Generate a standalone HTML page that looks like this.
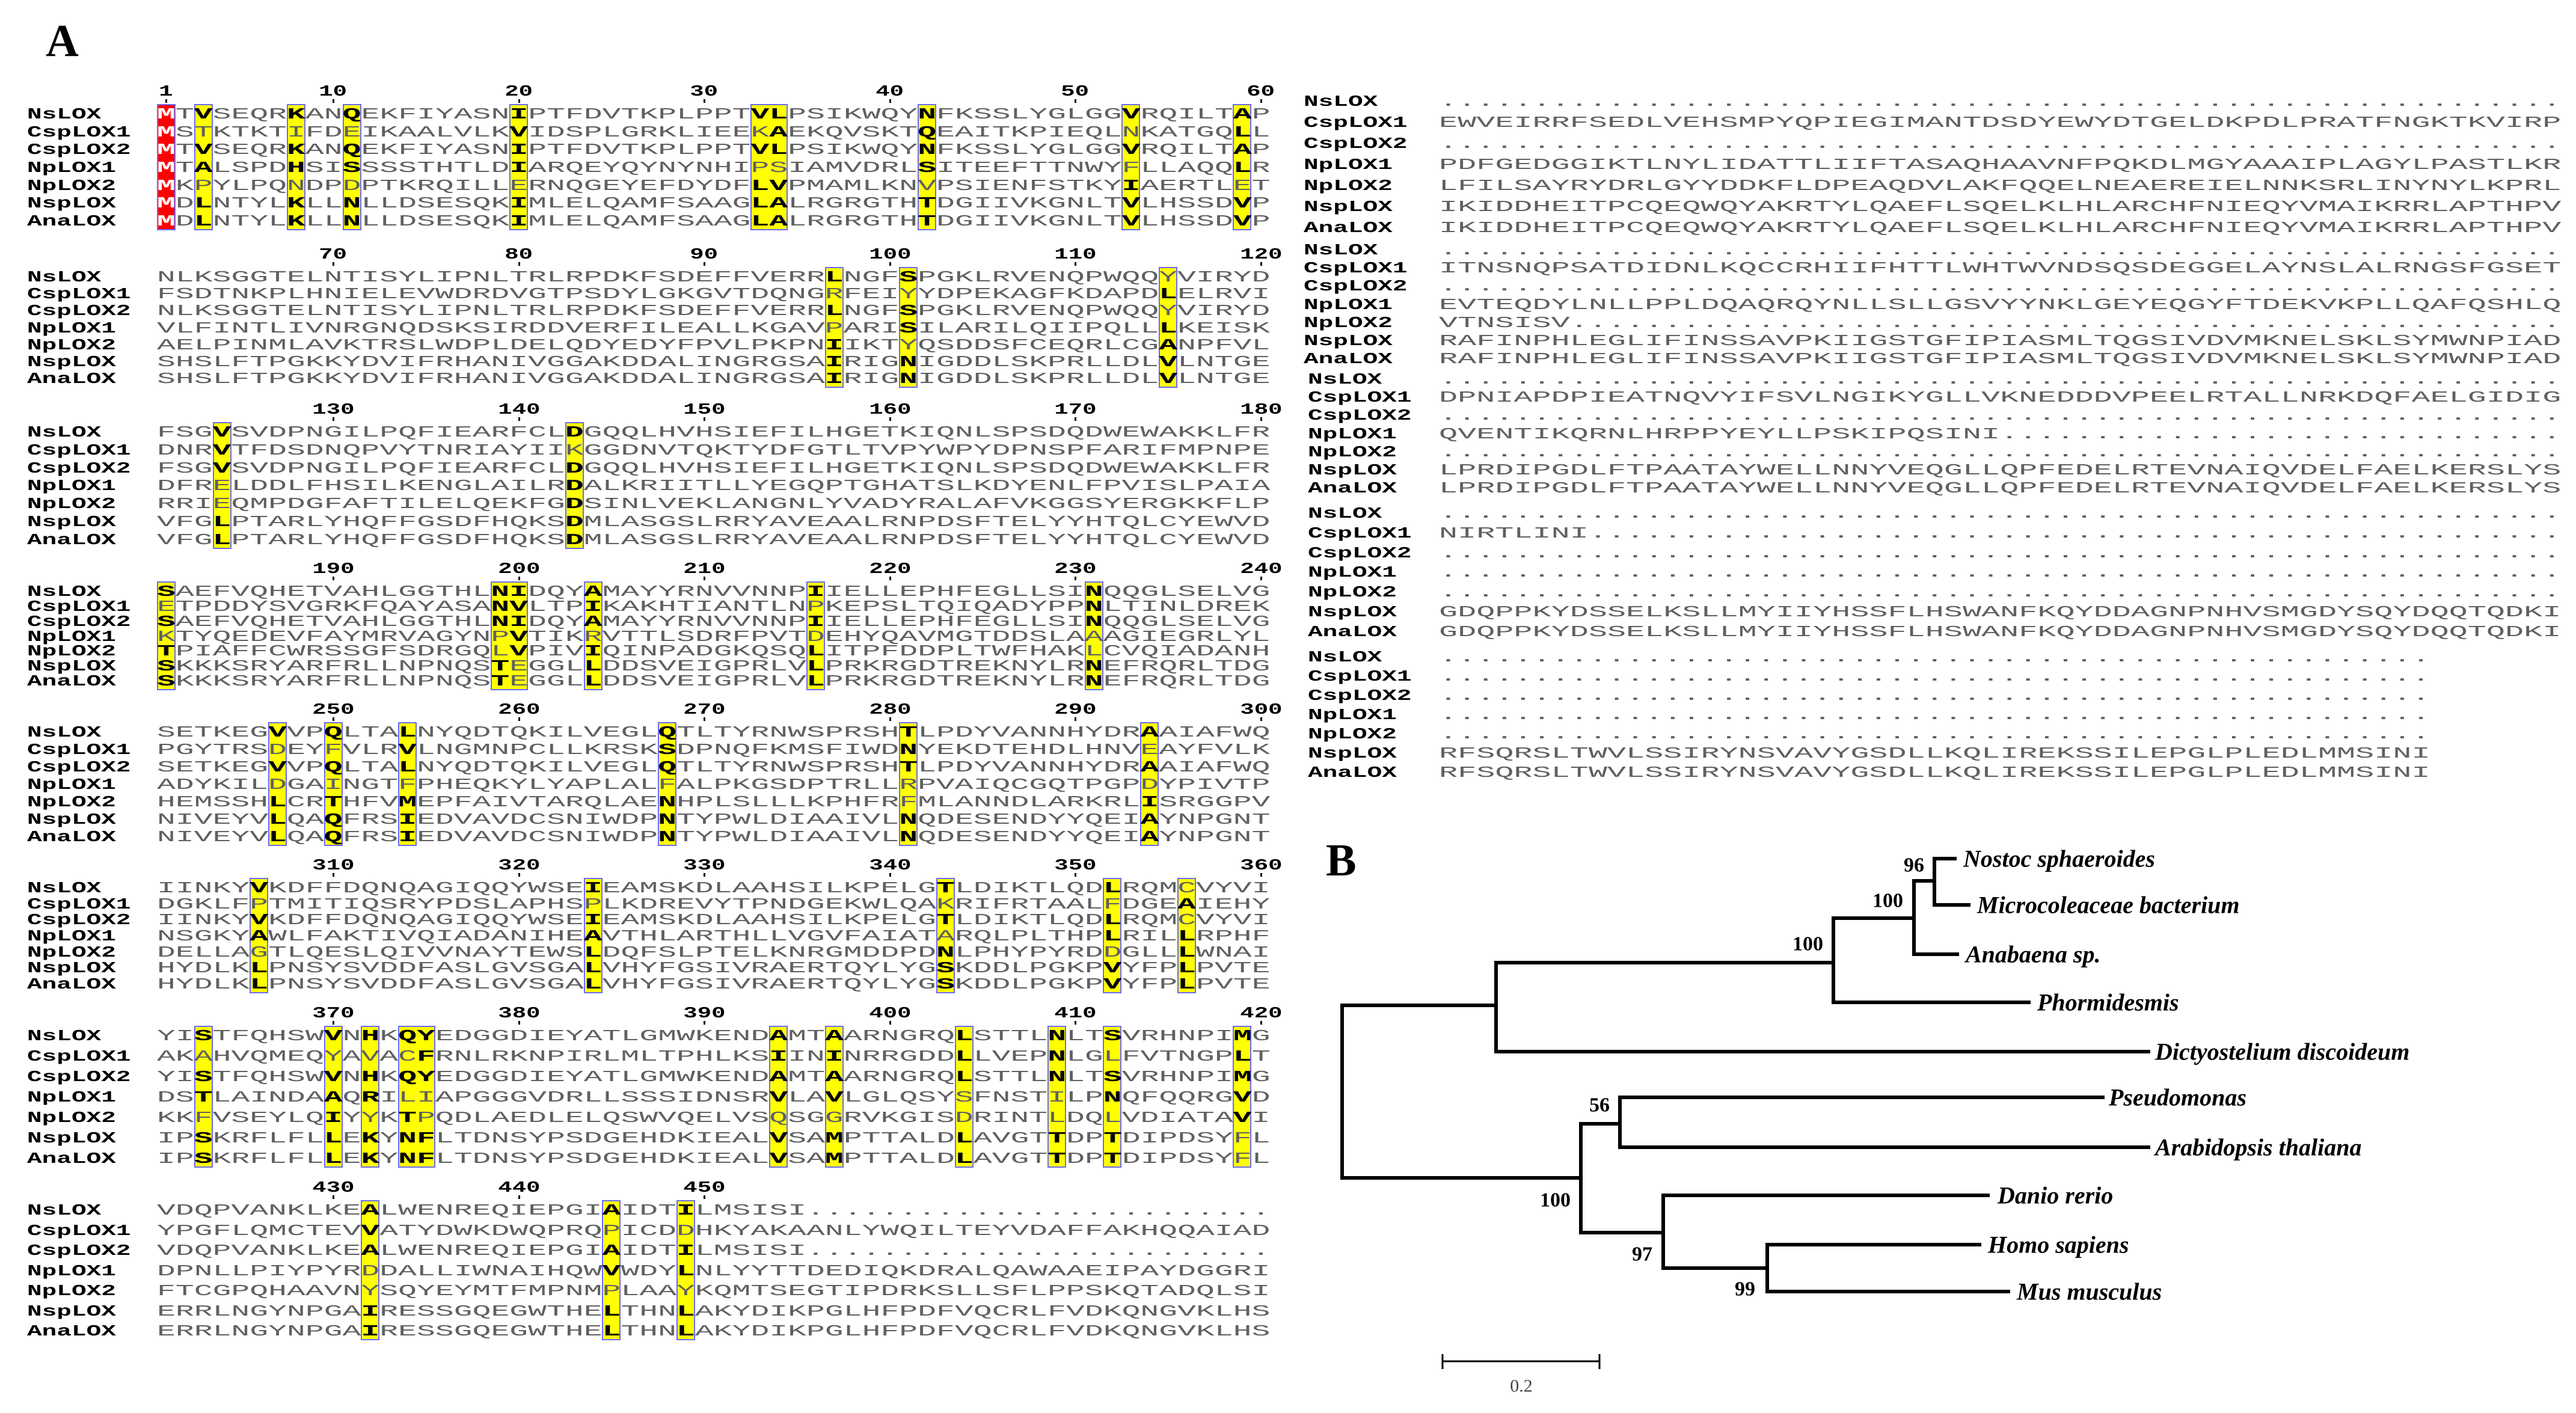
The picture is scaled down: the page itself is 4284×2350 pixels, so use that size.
<!DOCTYPE html>
<html><head><meta charset="utf-8"><style>
body{margin:0;background:#fff}
#pg{position:relative;width:4284px;height:2350px;overflow:hidden;background:#fff}
.r{position:absolute;left:261px;white-space:pre;font:26px/26px "Liberation Mono",monospace;color:#606060;transform:scaleX(1.9776);transform-origin:0 0}
.q{position:absolute;left:2393px;white-space:pre;font:26px/26px "Liberation Mono",monospace;color:#606060;transform:scaleX(1.9936);transform-origin:0 0}
.r b,.q b{color:#000}
.r b.w{color:#fff}
.n{position:absolute;left:45px;white-space:pre;font:bold 26px/26px "Liberation Mono",monospace;color:#000;transform:scaleX(1.58);transform-origin:0 0}
.m{position:absolute;left:2168px;white-space:pre;font:bold 26px/26px "Liberation Mono",monospace;color:#000;transform:scaleX(1.58);transform-origin:0 0}
.m2{left:2175px}
.bx{position:absolute;background:#ffff00;border:2px solid #6a6aff;box-sizing:border-box;width:31px}
.bx.d{width:62px}
.bx.red{background:#ff0000}
.nm{position:absolute;width:100px;text-align:center;font:bold 26px/26px "Liberation Mono",monospace;color:#000}
.nm span{display:inline-block;transform:scaleX(1.5)}
.tk{position:absolute;width:3px;height:6px;background:#000}
.L{position:absolute;font:bold 76px/76px "Liberation Serif",serif;color:#000}
</style></head><body><div id="pg">
<div class="L" style="left:76px;top:30px">A</div>
<div class="L" style="left:2205px;top:1393px">B</div>

<!-- ===== Block 1 ===== -->
<div class="bx red" style="left:261px;top:173px;height:210px"></div>
<div class="bx" style="left:323px;top:173px;height:210px"></div>
<div class="bx" style="left:477px;top:173px;height:210px"></div>
<div class="bx" style="left:570px;top:173px;height:210px"></div>
<div class="bx" style="left:847px;top:173px;height:210px"></div>
<div class="bx d" style="left:1248px;top:173px;height:210px"></div>
<div class="bx" style="left:1526px;top:173px;height:210px"></div>
<div class="bx" style="left:1865px;top:173px;height:210px"></div>
<div class="bx" style="left:2050px;top:173px;height:210px"></div>
<div class="nm" style="left:226px;top:139px"><span>1</span></div>
<div class="nm" style="left:504px;top:139px"><span>10</span></div>
<div class="nm" style="left:813px;top:139px"><span>20</span></div>
<div class="nm" style="left:1121px;top:139px"><span>30</span></div>
<div class="nm" style="left:1430px;top:139px"><span>40</span></div>
<div class="nm" style="left:1738px;top:139px"><span>50</span></div>
<div class="nm" style="left:2047px;top:139px"><span>60</span></div>
<div class="tk" style="left:275px;top:165px"></div><div class="tk" style="left:553px;top:165px"></div><div class="tk" style="left:862px;top:165px"></div><div class="tk" style="left:1170px;top:165px"></div><div class="tk" style="left:1479px;top:165px"></div><div class="tk" style="left:1787px;top:165px"></div><div class="tk" style="left:2096px;top:165px"></div>
<div class="n" style="top:177px">NsLOX</div>
<div class="n" style="top:207px">CspLOX1</div>
<div class="n" style="top:236px">CspLOX2</div>
<div class="n" style="top:266px">NpLOX1</div>
<div class="n" style="top:296px">NpLOX2</div>
<div class="n" style="top:325px">NspLOX</div>
<div class="n" style="top:355px">AnaLOX</div>
<div class="r" style="top:177px"><b class="w">M</b>T<b>V</b>SEQR<b>K</b>AN<b>Q</b>EKFIYASN<b>I</b>PTFDVTKPLPPT<b>VL</b>PSIKWQY<b>N</b>FKSSLYGLGG<b>V</b>RQILT<b>A</b>P</div>
<div class="r" style="top:207px"><b class="w">M</b>STKTKTIFDEIKAALVLK<b>V</b>IDSPLGRKLIEEK<b>A</b>EKQVSKT<b>Q</b>EAITKPIEQLNKATGQ<b>L</b>L</div>
<div class="r" style="top:236px"><b class="w">M</b>T<b>V</b>SEQR<b>K</b>AN<b>Q</b>EKFIYASN<b>I</b>PTFDVTKPLPPT<b>VL</b>PSIKWQY<b>N</b>FKSSLYGLGG<b>V</b>RQILT<b>A</b>P</div>
<div class="r" style="top:266px"><b class="w">M</b>T<b>A</b>LSPD<b>H</b>SI<b>S</b>SSSTHTLD<b>I</b>ARQEYQYNYNHIPSIAMVDRL<b>S</b>ITEEFTTNWYFLLAQQ<b>L</b>R</div>
<div class="r" style="top:296px"><b class="w">M</b>KPYLPQNDPDPTKRQILLERNQGEYEFDYDF<b>LV</b>PMAMLKNVPSIENFSTKY<b>I</b>AERTLET</div>
<div class="r" style="top:325px"><b class="w">M</b>D<b>L</b>NTYL<b>K</b>LL<b>N</b>LLDSESQK<b>I</b>MLELQAMFSAAG<b>LA</b>LRGRGTH<b>T</b>DGIIVKGNLT<b>V</b>LHSSD<b>V</b>P</div>
<div class="r" style="top:355px"><b class="w">M</b>D<b>L</b>NTYL<b>K</b>LL<b>N</b>LLDSESQK<b>I</b>MLELQAMFSAAG<b>LA</b>LRGRGTH<b>T</b>DGIIVKGNLT<b>V</b>LHSSD<b>V</b>P</div>

<!-- ===== Block 2 ===== -->
<div class="bx" style="left:1372px;top:444px;height:201px"></div>
<div class="bx" style="left:1495px;top:444px;height:201px"></div>
<div class="bx" style="left:1927px;top:444px;height:201px"></div>
<div class="nm" style="left:504px;top:410px"><span>70</span></div>
<div class="nm" style="left:813px;top:410px"><span>80</span></div>
<div class="nm" style="left:1121px;top:410px"><span>90</span></div>
<div class="nm" style="left:1430px;top:410px"><span>100</span></div>
<div class="nm" style="left:1738px;top:410px"><span>110</span></div>
<div class="nm" style="left:2047px;top:410px"><span>120</span></div>
<div class="tk" style="left:553px;top:436px"></div><div class="tk" style="left:862px;top:436px"></div><div class="tk" style="left:1170px;top:436px"></div><div class="tk" style="left:1479px;top:436px"></div><div class="tk" style="left:1787px;top:436px"></div><div class="tk" style="left:2096px;top:436px"></div>
<div class="n" style="top:448px">NsLOX</div>
<div class="n" style="top:476px">CspLOX1</div>
<div class="n" style="top:504px">CspLOX2</div>
<div class="n" style="top:533px">NpLOX1</div>
<div class="n" style="top:561px">NpLOX2</div>
<div class="n" style="top:589px">NspLOX</div>
<div class="n" style="top:617px">AnaLOX</div>
<div class="r" style="top:448px">NLKSGGTELNTISYLIPNLTRLRPDKFSDEFFVERR<b>L</b>NGF<b>S</b>PGKLRVENQPWQQYVIRYD</div>
<div class="r" style="top:476px">FSDTNKPLHNIELEVWDRDVGTPSDYLGKGVTDQNGRFEIYYDPEKAGFKDAPD<b>L</b>ELRVI</div>
<div class="r" style="top:504px">NLKSGGTELNTISYLIPNLTRLRPDKFSDEFFVERR<b>L</b>NGF<b>S</b>PGKLRVENQPWQQYVIRYD</div>
<div class="r" style="top:533px">VLFINTLIVNRGNQDSKSIRDDVERFILEALLKGAVPARI<b>S</b>ILARILQIIPQLL<b>L</b>KEISK</div>
<div class="r" style="top:561px">AELPINMLAVKTRSLWDPLDELQDYEDYFPVLPKPN<b>I</b>IKTYQSDDSFCEQRLCG<b>A</b>NPFVL</div>
<div class="r" style="top:589px">SHSLFTPGKKYDVIFRHANIVGGAKDDALINGRGSA<b>I</b>RIG<b>N</b>IGDDLSKPRLLDL<b>V</b>LNTGE</div>
<div class="r" style="top:617px">SHSLFTPGKKYDVIFRHANIVGGAKDDALINGRGSA<b>I</b>RIG<b>N</b>IGDDLSKPRLLDL<b>V</b>LNTGE</div>

<!-- ===== Block 3 ===== -->
<div class="bx" style="left:354px;top:702px;height:211px"></div>
<div class="bx" style="left:940px;top:702px;height:211px"></div>
<div class="nm" style="left:504px;top:668px"><span>130</span></div>
<div class="nm" style="left:813px;top:668px"><span>140</span></div>
<div class="nm" style="left:1121px;top:668px"><span>150</span></div>
<div class="nm" style="left:1430px;top:668px"><span>160</span></div>
<div class="nm" style="left:1738px;top:668px"><span>170</span></div>
<div class="nm" style="left:2047px;top:668px"><span>180</span></div>
<div class="tk" style="left:553px;top:694px"></div><div class="tk" style="left:862px;top:694px"></div><div class="tk" style="left:1170px;top:694px"></div><div class="tk" style="left:1479px;top:694px"></div><div class="tk" style="left:1787px;top:694px"></div><div class="tk" style="left:2096px;top:694px"></div>
<div class="n" style="top:706px">NsLOX</div>
<div class="n" style="top:736px">CspLOX1</div>
<div class="n" style="top:766px">CspLOX2</div>
<div class="n" style="top:795px">NpLOX1</div>
<div class="n" style="top:825px">NpLOX2</div>
<div class="n" style="top:855px">NspLOX</div>
<div class="n" style="top:885px">AnaLOX</div>
<div class="r" style="top:706px">FSG<b>V</b>SVDPNGILPQFIEARFCL<b>D</b>GQQLHVHSIEFILHGETKIQNLSPSDQDWEWAKKLFR</div>
<div class="r" style="top:736px">DNR<b>V</b>TFDSDNQPVYTNRIAYIIKGGDNVTQKTYDFGTLTVPYWPYDPNSPFARIFMPNPE</div>
<div class="r" style="top:766px">FSG<b>V</b>SVDPNGILPQFIEARFCL<b>D</b>GQQLHVHSIEFILHGETKIQNLSPSDQDWEWAKKLFR</div>
<div class="r" style="top:795px">DFRELDDLFHSILKENGLAILR<b>D</b>ALKRIITLLYEGQPTGHATSLKDYENLFPVISLPAIA</div>
<div class="r" style="top:825px">RRIEQMPDGFAFTILELQEKFG<b>D</b>SINLVEKLANGNLYVADYRALAFVKGGSYERGKKFLP</div>
<div class="r" style="top:855px">VFG<b>L</b>PTARLYHQFFGSDFHQKS<b>D</b>MLASGSLRRYAVEAALRNPDSFTELYYHTQLCYEWVD</div>
<div class="r" style="top:885px">VFG<b>L</b>PTARLYHQFFGSDFHQKS<b>D</b>MLASGSLRRYAVEAALRNPDSFTELYYHTQLCYEWVD</div>

<!-- ===== Block 4 ===== -->
<div class="bx" style="left:261px;top:967px;height:181px"></div>
<div class="bx d" style="left:816px;top:967px;height:181px"></div>
<div class="bx" style="left:971px;top:967px;height:181px"></div>
<div class="bx" style="left:1341px;top:967px;height:181px"></div>
<div class="bx" style="left:1804px;top:967px;height:181px"></div>
<div class="nm" style="left:504px;top:933px"><span>190</span></div>
<div class="nm" style="left:813px;top:933px"><span>200</span></div>
<div class="nm" style="left:1121px;top:933px"><span>210</span></div>
<div class="nm" style="left:1430px;top:933px"><span>220</span></div>
<div class="nm" style="left:1738px;top:933px"><span>230</span></div>
<div class="nm" style="left:2047px;top:933px"><span>240</span></div>
<div class="tk" style="left:553px;top:959px"></div><div class="tk" style="left:862px;top:959px"></div><div class="tk" style="left:1170px;top:959px"></div><div class="tk" style="left:1479px;top:959px"></div><div class="tk" style="left:1787px;top:959px"></div><div class="tk" style="left:2096px;top:959px"></div>
<div class="n" style="top:971px">NsLOX</div>
<div class="n" style="top:996px">CspLOX1</div>
<div class="n" style="top:1021px">CspLOX2</div>
<div class="n" style="top:1046px">NpLOX1</div>
<div class="n" style="top:1070px">NpLOX2</div>
<div class="n" style="top:1095px">NspLOX</div>
<div class="n" style="top:1120px">AnaLOX</div>
<div class="r" style="top:971px"><b>S</b>AEFVQHETVAHLGGTHL<b>NI</b>DQY<b>A</b>MAYYRNVVNNP<b>I</b>IELLEPHFEGLLSI<b>N</b>QQGLSELVG</div>
<div class="r" style="top:996px">ETPDDYSVGRKFQAYASA<b>NV</b>LTP<b>I</b>KAKHTIANTLNPKEPSLTQIQADYPP<b>N</b>LTINLDREK</div>
<div class="r" style="top:1021px"><b>S</b>AEFVQHETVAHLGGTHL<b>NI</b>DQY<b>A</b>MAYYRNVVNNP<b>I</b>IELLEPHFEGLLSI<b>N</b>QQGLSELVG</div>
<div class="r" style="top:1046px">KTYQEDEVFAYMRVAGYNP<b>V</b>TIKRVTTLSDRFPVTDEHYQAVMGTDDSLAAAGIEGRLYL</div>
<div class="r" style="top:1070px"><b>T</b>PIAFFCWRSSGFSDRGQL<b>V</b>PIV<b>I</b>QINPADGKQSQ<b>L</b>ITPFDDPLTWFHAKLCVQIADANH</div>
<div class="r" style="top:1095px"><b>S</b>KKKSRYARFRLLNPNQS<b>T</b>EGGL<b>L</b>DDSVEIGPRLV<b>L</b>PRKRGDTREKNYLR<b>N</b>EFRQRLTDG</div>
<div class="r" style="top:1120px"><b>S</b>KKKSRYARFRLLNPNQS<b>T</b>EGGL<b>L</b>DDSVEIGPRLV<b>L</b>PRKRGDTREKNYLR<b>N</b>EFRQRLTDG</div>

<!-- ===== Block 5 ===== -->
<div class="bx" style="left:446px;top:1201px;height:206px"></div>
<div class="bx" style="left:539px;top:1201px;height:206px"></div>
<div class="bx" style="left:662px;top:1201px;height:206px"></div>
<div class="bx" style="left:1094px;top:1201px;height:206px"></div>
<div class="bx" style="left:1495px;top:1201px;height:206px"></div>
<div class="bx" style="left:1896px;top:1201px;height:206px"></div>
<div class="nm" style="left:504px;top:1167px"><span>250</span></div>
<div class="nm" style="left:813px;top:1167px"><span>260</span></div>
<div class="nm" style="left:1121px;top:1167px"><span>270</span></div>
<div class="nm" style="left:1430px;top:1167px"><span>280</span></div>
<div class="nm" style="left:1738px;top:1167px"><span>290</span></div>
<div class="nm" style="left:2047px;top:1167px"><span>300</span></div>
<div class="tk" style="left:553px;top:1193px"></div><div class="tk" style="left:862px;top:1193px"></div><div class="tk" style="left:1170px;top:1193px"></div><div class="tk" style="left:1479px;top:1193px"></div><div class="tk" style="left:1787px;top:1193px"></div><div class="tk" style="left:2096px;top:1193px"></div>
<div class="n" style="top:1205px">NsLOX</div>
<div class="n" style="top:1234px">CspLOX1</div>
<div class="n" style="top:1263px">CspLOX2</div>
<div class="n" style="top:1292px">NpLOX1</div>
<div class="n" style="top:1321px">NpLOX2</div>
<div class="n" style="top:1350px">NspLOX</div>
<div class="n" style="top:1379px">AnaLOX</div>
<div class="r" style="top:1205px">SETKEG<b>V</b>VP<b>Q</b>LTA<b>L</b>NYQDTQKILVEGL<b>Q</b>TLTYRNWSPRSH<b>T</b>LPDYVANNHYDR<b>A</b>AIAFWQ</div>
<div class="r" style="top:1234px">PGYTRSDEYFVLR<b>V</b>LNGMNPCLLKRSK<b>S</b>DPNQFKMSFIWD<b>N</b>YEKDTEHDLHNVEAYFVLK</div>
<div class="r" style="top:1263px">SETKEG<b>V</b>VP<b>Q</b>LTA<b>L</b>NYQDTQKILVEGL<b>Q</b>TLTYRNWSPRSH<b>T</b>LPDYVANNHYDR<b>A</b>AIAFWQ</div>
<div class="r" style="top:1292px">ADYKILDGAINGTFPHEQKYLYAPLALFALPKGSDPTRLLRPVAIQCGQTPGPDYPIVTP</div>
<div class="r" style="top:1321px">HEMSSH<b>L</b>CR<b>T</b>HFV<b>M</b>EPFAIVTARQLAE<b>N</b>HPLSLLLKPHFRFMLANNDLARKRL<b>I</b>SRGGPV</div>
<div class="r" style="top:1350px">NIVEYV<b>L</b>QA<b>Q</b>FRS<b>I</b>EDVAVDCSNIWDP<b>N</b>TYPWLDIAAIVL<b>N</b>QDESENDYYQEI<b>A</b>YNPGNT</div>
<div class="r" style="top:1379px">NIVEYV<b>L</b>QA<b>Q</b>FRS<b>I</b>EDVAVDCSNIWDP<b>N</b>TYPWLDIAAIVL<b>N</b>QDESENDYYQEI<b>A</b>YNPGNT</div>

<!-- ===== Block 6 ===== -->
<div class="bx" style="left:415px;top:1460px;height:192px"></div>
<div class="bx" style="left:971px;top:1460px;height:192px"></div>
<div class="bx" style="left:1557px;top:1460px;height:192px"></div>
<div class="bx" style="left:1834px;top:1460px;height:192px"></div>
<div class="bx" style="left:1958px;top:1460px;height:192px"></div>
<div class="nm" style="left:504px;top:1426px"><span>310</span></div>
<div class="nm" style="left:813px;top:1426px"><span>320</span></div>
<div class="nm" style="left:1121px;top:1426px"><span>330</span></div>
<div class="nm" style="left:1430px;top:1426px"><span>340</span></div>
<div class="nm" style="left:1738px;top:1426px"><span>350</span></div>
<div class="nm" style="left:2047px;top:1426px"><span>360</span></div>
<div class="tk" style="left:553px;top:1452px"></div><div class="tk" style="left:862px;top:1452px"></div><div class="tk" style="left:1170px;top:1452px"></div><div class="tk" style="left:1479px;top:1452px"></div><div class="tk" style="left:1787px;top:1452px"></div><div class="tk" style="left:2096px;top:1452px"></div>
<div class="n" style="top:1464px">NsLOX</div>
<div class="n" style="top:1491px">CspLOX1</div>
<div class="n" style="top:1517px">CspLOX2</div>
<div class="n" style="top:1544px">NpLOX1</div>
<div class="n" style="top:1571px">NpLOX2</div>
<div class="n" style="top:1597px">NspLOX</div>
<div class="n" style="top:1624px">AnaLOX</div>
<div class="r" style="top:1464px">IINKY<b>V</b>KDFFDQNQAGIQQYWSE<b>I</b>EAMSKDLAAHSILKPELG<b>T</b>LDIKTLQD<b>L</b>RQMCVYVI</div>
<div class="r" style="top:1491px">DGKLFPTMITIQSRYPDSLAPHSPLKDREVYTPNDGEKWLQAKRIFRTAALFDGE<b>A</b>IEHY</div>
<div class="r" style="top:1517px">IINKY<b>V</b>KDFFDQNQAGIQQYWSE<b>I</b>EAMSKDLAAHSILKPELG<b>T</b>LDIKTLQD<b>L</b>RQMCVYVI</div>
<div class="r" style="top:1544px">NSGKY<b>A</b>WLFAKTIVQIADANIHE<b>A</b>VTHLARTHLLVGVFAIATARQLPLTHP<b>L</b>RIL<b>L</b>RPHF</div>
<div class="r" style="top:1571px">DELLAGTLQESLQIVVNAYTEWS<b>L</b>DQFSLPTELKNRGMDDPD<b>N</b>LPHYPYRDDGLL<b>L</b>WNAI</div>
<div class="r" style="top:1597px">HYDLK<b>L</b>PNSYSVDDFASLGVSGA<b>L</b>VHYFGSIVRAERTQYLYG<b>S</b>KDDLPGKP<b>V</b>YFP<b>L</b>PVTE</div>
<div class="r" style="top:1624px">HYDLK<b>L</b>PNSYSVDDFASLGVSGA<b>L</b>VHYFGSIVRAERTQYLYG<b>S</b>KDDLPGKP<b>V</b>YFP<b>L</b>PVTE</div>

<!-- ===== Block 7 ===== -->
<div class="bx" style="left:323px;top:1706px;height:236px"></div>
<div class="bx" style="left:539px;top:1706px;height:236px"></div>
<div class="bx" style="left:600px;top:1706px;height:236px"></div>
<div class="bx d" style="left:662px;top:1706px;height:236px"></div>
<div class="bx" style="left:1279px;top:1706px;height:236px"></div>
<div class="bx" style="left:1372px;top:1706px;height:236px"></div>
<div class="bx" style="left:1588px;top:1706px;height:236px"></div>
<div class="bx" style="left:1742px;top:1706px;height:236px"></div>
<div class="bx" style="left:1834px;top:1706px;height:236px"></div>
<div class="bx" style="left:2050px;top:1706px;height:236px"></div>
<div class="nm" style="left:504px;top:1672px"><span>370</span></div>
<div class="nm" style="left:813px;top:1672px"><span>380</span></div>
<div class="nm" style="left:1121px;top:1672px"><span>390</span></div>
<div class="nm" style="left:1430px;top:1672px"><span>400</span></div>
<div class="nm" style="left:1738px;top:1672px"><span>410</span></div>
<div class="nm" style="left:2047px;top:1672px"><span>420</span></div>
<div class="tk" style="left:553px;top:1698px"></div><div class="tk" style="left:862px;top:1698px"></div><div class="tk" style="left:1170px;top:1698px"></div><div class="tk" style="left:1479px;top:1698px"></div><div class="tk" style="left:1787px;top:1698px"></div><div class="tk" style="left:2096px;top:1698px"></div>
<div class="n" style="top:1710px">NsLOX</div>
<div class="n" style="top:1744px">CspLOX1</div>
<div class="n" style="top:1778px">CspLOX2</div>
<div class="n" style="top:1812px">NpLOX1</div>
<div class="n" style="top:1846px">NpLOX2</div>
<div class="n" style="top:1880px">NspLOX</div>
<div class="n" style="top:1914px">AnaLOX</div>
<div class="r" style="top:1710px">YI<b>S</b>TFQHSW<b>V</b>N<b>H</b>K<b>QY</b>EDGGDIEYATLGMWKEND<b>A</b>MT<b>A</b>ARNGRQ<b>L</b>STTL<b>N</b>LT<b>S</b>VRHNPI<b>M</b>G</div>
<div class="r" style="top:1744px">AKAHVQMEQYAVAC<b>F</b>RNLRKNPIRLMLTPHLKS<b>I</b>IN<b>I</b>NRRGDD<b>L</b>LVEP<b>N</b>LGLFVTNGP<b>L</b>T</div>
<div class="r" style="top:1778px">YI<b>S</b>TFQHSW<b>V</b>N<b>H</b>K<b>QY</b>EDGGDIEYATLGMWKEND<b>A</b>MT<b>A</b>ARNGRQ<b>L</b>STTL<b>N</b>LT<b>S</b>VRHNPI<b>M</b>G</div>
<div class="r" style="top:1812px">DS<b>T</b>LAINDA<b>A</b>Q<b>R</b>ILIAPGGGVDRLLSSSIDNSR<b>V</b>LA<b>V</b>LGLQSYSFNSTILP<b>N</b>QFQQRG<b>V</b>D</div>
<div class="r" style="top:1846px">KKFVSEYLQ<b>I</b>YYK<b>T</b>PQDLAEDLELQSWVQELVSQSGGRVKGISDRINTLDQLVDIATA<b>V</b>I</div>
<div class="r" style="top:1880px">IP<b>S</b>KRFLFL<b>L</b>E<b>K</b>Y<b>NF</b>LTDNSYPSDGEHDKIEAL<b>V</b>SA<b>M</b>PTTALD<b>L</b>AVGT<b>T</b>DP<b>T</b>DIPDSYFL</div>
<div class="r" style="top:1914px">IP<b>S</b>KRFLFL<b>L</b>E<b>K</b>Y<b>NF</b>LTDNSYPSDGEHDKIEAL<b>V</b>SA<b>M</b>PTTALD<b>L</b>AVGT<b>T</b>DP<b>T</b>DIPDSYFL</div>

<!-- ===== Block 8 ===== -->
<div class="bx" style="left:600px;top:1996px;height:233px"></div>
<div class="bx" style="left:1001px;top:1996px;height:233px"></div>
<div class="bx" style="left:1125px;top:1996px;height:233px"></div>
<div class="nm" style="left:504px;top:1962px"><span>430</span></div>
<div class="nm" style="left:813px;top:1962px"><span>440</span></div>
<div class="nm" style="left:1121px;top:1962px"><span>450</span></div>
<div class="tk" style="left:553px;top:1988px"></div><div class="tk" style="left:862px;top:1988px"></div><div class="tk" style="left:1170px;top:1988px"></div>
<div class="n" style="top:2000px">NsLOX</div>
<div class="n" style="top:2034px">CspLOX1</div>
<div class="n" style="top:2067px">CspLOX2</div>
<div class="n" style="top:2101px">NpLOX1</div>
<div class="n" style="top:2134px">NpLOX2</div>
<div class="n" style="top:2168px">NspLOX</div>
<div class="n" style="top:2201px">AnaLOX</div>
<div class="r" style="top:2000px">VDQPVANKLKE<b>A</b>LWENREQIEPGI<b>A</b>IDT<b>I</b>LMSISI.........................</div>
<div class="r" style="top:2034px">YPGFLQMCTEV<b>V</b>ATYDWKDWQPRQPICDDHKYAKAANLYWQILTEYVDAFFAKHQQAIAD</div>
<div class="r" style="top:2067px">VDQPVANKLKE<b>A</b>LWENREQIEPGI<b>A</b>IDT<b>I</b>LMSISI.........................</div>
<div class="r" style="top:2101px">DPNLLPIYPYRDDALLIWNAIHQW<b>V</b>WDY<b>L</b>NLYYTTDEDIQKDRALQAWAAEIPAYDGGRI</div>
<div class="r" style="top:2134px">FTCGPQHAAVNYSQYEYMTFMPNMPLAAYKQMTSEGTIPDRKSLLSFLPPSKQTADQLSI</div>
<div class="r" style="top:2168px">ERRLNGYNPGA<b>I</b>RESSGQEGWTHE<b>L</b>THN<b>L</b>AKYDIKPGLHFPDFVQCRLFVDKQNGVKLHS</div>
<div class="r" style="top:2201px">ERRLNGYNPGA<b>I</b>RESSGQEGWTHE<b>L</b>THN<b>L</b>AKYDIKPGLHFPDFVQCRLFVDKQNGVKLHS</div>

<!-- ===== Right panel ===== -->
<div class="m" style="top:156px">NsLOX</div>
<div class="m" style="top:191px">CspLOX1</div>
<div class="m" style="top:226px">CspLOX2</div>
<div class="m" style="top:261px">NpLOX1</div>
<div class="m" style="top:296px">NpLOX2</div>
<div class="m" style="top:331px">NspLOX</div>
<div class="m" style="top:366px">AnaLOX</div>
<div class="q" style="top:156px">............................................................</div>
<div class="q" style="top:191px">EWVEIRRFSEDLVEHSMPYQPIEGIMANTDSDYEWYDTGELDKPDLPRATFNGKTKVIRP</div>
<div class="q" style="top:226px">............................................................</div>
<div class="q" style="top:261px">PDFGEDGGIKTLNYLIDATTLIIFTASAQHAAVNFPQKDLMGYAAAIPLAGYLPASTLKR</div>
<div class="q" style="top:296px">LFILSAYRYDRLGYYDDKFLDPEAQDVLAKFQQELNEAEREIELNNKSRLINYNYLKPRL</div>
<div class="q" style="top:331px">IKIDDHEITPCQEQWQYAKRTYLQAEFLSQELKLHLARCHFNIEQYVMAIKRRLAPTHPV</div>
<div class="q" style="top:366px">IKIDDHEITPCQEQWQYAKRTYLQAEFLSQELKLHLARCHFNIEQYVMAIKRRLAPTHPV</div>

<div class="m" style="top:403px">NsLOX</div>
<div class="m" style="top:433px">CspLOX1</div>
<div class="m" style="top:463px">CspLOX2</div>
<div class="m" style="top:494px">NpLOX1</div>
<div class="m" style="top:524px">NpLOX2</div>
<div class="m" style="top:554px">NspLOX</div>
<div class="m" style="top:584px">AnaLOX</div>
<div class="q" style="top:403px">............................................................</div>
<div class="q" style="top:433px">ITNSNQPSATDIDNLKQCCRHIIFHTTLWHTWVNDSQSDEGGELAYNSLALRNGSFGSET</div>
<div class="q" style="top:463px">............................................................</div>
<div class="q" style="top:494px">EVTEQDYLNLLPPLDQAQRQYNLLSLLGSVYYNKLGEYEQGYFTDEKVKPLLQAFQSHLQ</div>
<div class="q" style="top:524px">VTNSISV.....................................................</div>
<div class="q" style="top:554px">RAFINPHLEGLIFINSSAVPKIIGSTGFIPIASMLTQGSIVDVMKNELSKLSYMWNPIAD</div>
<div class="q" style="top:584px">RAFINPHLEGLIFINSSAVPKIIGSTGFIPIASMLTQGSIVDVMKNELSKLSYMWNPIAD</div>

<div class="m m2" style="top:618px">NsLOX</div>
<div class="m m2" style="top:648px">CspLOX1</div>
<div class="m m2" style="top:678px">CspLOX2</div>
<div class="m m2" style="top:709px">NpLOX1</div>
<div class="m m2" style="top:739px">NpLOX2</div>
<div class="m m2" style="top:769px">NspLOX</div>
<div class="m m2" style="top:799px">AnaLOX</div>
<div class="q" style="top:618px">............................................................</div>
<div class="q" style="top:648px">DPNIAPDPIEATNQVYIFSVLNGIKYGLLVKNEDDDVPEELRTALLNRKDQFAELGIDIG</div>
<div class="q" style="top:678px">............................................................</div>
<div class="q" style="top:709px">QVENTIKQRNLHRPPYEYLLPSKIPQSINI..............................</div>
<div class="q" style="top:739px">............................................................</div>
<div class="q" style="top:769px">LPRDIPGDLFTPAATAYWELLNNYVEQGLLQPFEDELRTEVNAIQVDELFAELKERSLYS</div>
<div class="q" style="top:799px">LPRDIPGDLFTPAATAYWELLNNYVEQGLLQPFEDELRTEVNAIQVDELFAELKERSLYS</div>

<div class="m m2" style="top:841px">NsLOX</div>
<div class="m m2" style="top:874px">CspLOX1</div>
<div class="m m2" style="top:907px">CspLOX2</div>
<div class="m m2" style="top:939px">NpLOX1</div>
<div class="m m2" style="top:972px">NpLOX2</div>
<div class="m m2" style="top:1005px">NspLOX</div>
<div class="m m2" style="top:1038px">AnaLOX</div>
<div class="q" style="top:841px">............................................................</div>
<div class="q" style="top:874px">NIRTLINI....................................................</div>
<div class="q" style="top:907px">............................................................</div>
<div class="q" style="top:939px">............................................................</div>
<div class="q" style="top:972px">............................................................</div>
<div class="q" style="top:1005px">GDQPPKYDSSELKSLLMYIIYHSSFLHSWANFKQYDDAGNPNHVSMGDYSQYDQQTQDKI</div>
<div class="q" style="top:1038px">GDQPPKYDSSELKSLLMYIIYHSSFLHSWANFKQYDDAGNPNHVSMGDYSQYDQQTQDKI</div>

<div class="m m2" style="top:1080px">NsLOX</div>
<div class="m m2" style="top:1112px">CspLOX1</div>
<div class="m m2" style="top:1144px">CspLOX2</div>
<div class="m m2" style="top:1176px">NpLOX1</div>
<div class="m m2" style="top:1208px">NpLOX2</div>
<div class="m m2" style="top:1240px">NspLOX</div>
<div class="m m2" style="top:1272px">AnaLOX</div>
<div class="q" style="top:1080px">.....................................................</div>
<div class="q" style="top:1112px">.....................................................</div>
<div class="q" style="top:1144px">.....................................................</div>
<div class="q" style="top:1176px">.....................................................</div>
<div class="q" style="top:1208px">.....................................................</div>
<div class="q" style="top:1240px">RFSQRSLTWVLSSIRYNSVAVYGSDLLKQLIREKSSILEPGLPLEDLMMSINI</div>
<div class="q" style="top:1272px">RFSQRSLTWVLSSIRYNSVAVYGSDLLKQLIREKSSILEPGLPLEDLMMSINI</div>

<!-- ===== Tree ===== -->
<svg style="position:absolute;left:0;top:0" width="4284" height="2350" xmlns="http://www.w3.org/2000/svg">
<g stroke="#000" stroke-width="6" fill="none" stroke-linecap="square">
<path d="M2232 1672 V1959"/>
<path d="M2232 1672 H2488"/><path d="M2232 1959 H2629"/>
<path d="M2488 1601 V1749"/><path d="M2488 1601 H3049"/><path d="M2488 1749 H3573"/>
<path d="M3049 1527 V1667"/><path d="M3049 1667 H3374"/><path d="M3049 1527 H3183"/>
<path d="M3183 1465 V1587"/><path d="M3183 1587 H3255"/><path d="M3183 1465 H3217"/>
<path d="M3217 1428 V1505"/><path d="M3217 1428 H3251"/><path d="M3217 1505 H3274"/>
<path d="M2629 1869 V2050"/><path d="M2629 1869 H2694"/>
<path d="M2694 1825 V1908"/><path d="M2694 1825 H3497"/><path d="M2694 1908 H3573"/>
<path d="M2629 2050 H2766"/><path d="M2766 1988 V2109"/><path d="M2766 1988 H3306"/>
<path d="M2766 2109 H2939"/><path d="M2939 2070 V2148"/><path d="M2939 2070 H3292"/><path d="M2939 2148 H3340"/>
</g>
<g font-family="Liberation Serif, serif" font-style="italic" font-weight="bold" font-size="40" fill="#000" dominant-baseline="central">
<text x="3265" y="1428">Nostoc sphaeroides</text>
<text x="3288" y="1505">Microcoleaceae bacterium</text>
<text x="3269" y="1587">Anabaena sp.</text>
<text x="3388" y="1667">Phormidesmis</text>
<text x="3584" y="1749">Dictyostelium discoideum</text>
<text x="3507" y="1825">Pseudomonas</text>
<text x="3584" y="1908">Arabidopsis thaliana</text>
<text x="3322" y="1988">Danio rerio</text>
<text x="3306" y="2070">Homo sapiens</text>
<text x="3354" y="2148">Mus musculus</text>
</g>
<g font-family="Liberation Serif, serif" font-weight="bold" font-size="34" fill="#000" text-anchor="end" dominant-baseline="central">
<text x="3200" y="1439">96</text>
<text x="3165" y="1498">100</text>
<text x="3032" y="1570">100</text>
<text x="2677" y="1838">56</text>
<text x="2612" y="1996">100</text>
<text x="2748" y="2086">97</text>
<text x="2919" y="2144">99</text>
</g>
<g stroke="#000" stroke-width="3">
<path d="M2399 2264 H2660"/><path d="M2399 2252 V2277"/><path d="M2660 2252 V2277"/>
</g>
<text x="2530" y="2305" font-family="Liberation Serif, serif" font-size="30" fill="#444" text-anchor="middle" dominant-baseline="central">0.2</text>
</svg>
</div></body></html>
